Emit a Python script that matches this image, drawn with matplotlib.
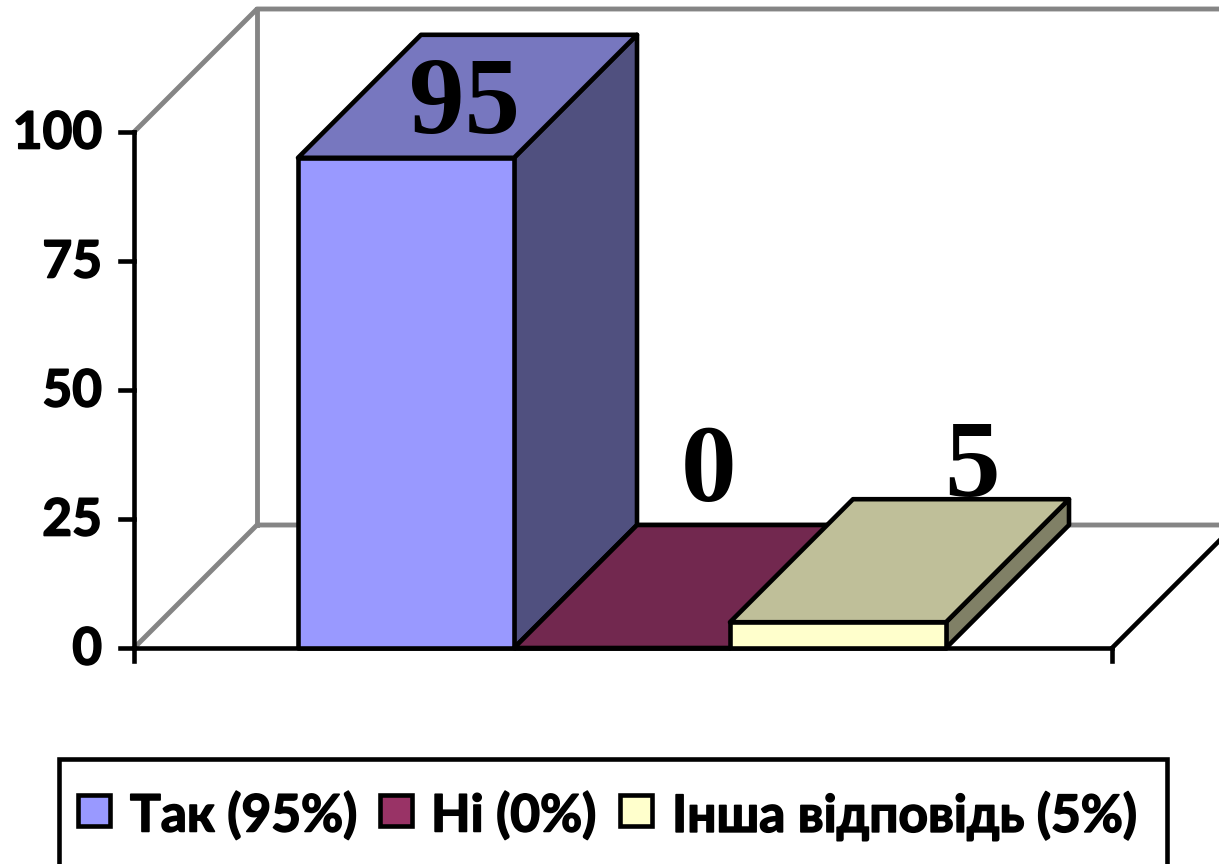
import matplotlib
matplotlib.use("Agg")
import matplotlib.pyplot as plt
import matplotlib.patheffects as pe
from matplotlib.patches import Polygon, Rectangle

# values
series = ["Так (95%)", "Ні (0%)", "Інша відповідь (5%)"]
values = [95, 0, 5]
value_labels = ["95", "0", "5"]
y_ticks = [0, 25, 50, 75, 100]

# chart colours: front, top, side
front_colors = ["#9999FF", "#993366", "#FFFFCC"]
top_colors = ["#7777BF", "#72284F", "#BFBF99"]
side_colors = ["#50507F", "#4D1A33", "#808066"]

# geometry in image pixels
X0, X1, Y0, Y100 = 134, 1112, 648, 132
DEPTH = 123
BAR_X = 298
BAR_W = 216
WALL = "#858585"
LW = 3.3
WALL_LW = 3.5

# fake a heavier weight than Lato Bold gives
heavy = [pe.withStroke(linewidth=1.2, foreground="black")]


def y_of(v):
    return Y0 - v * (Y0 - Y100) / 100


fig = plt.figure(figsize=(12.19, 8.64), dpi=100)
ax = fig.add_axes([0, 0, 1, 1])
ax.set_xlim(0, 1219)
ax.set_ylim(864, 0)
ax.axis("off")

# back walls
wall_top = y_of(100) - DEPTH
wall_bot = Y0 - DEPTH
ax.plot([X0, X0 + DEPTH, 1219], [Y100, wall_top, wall_top], color=WALL, lw=WALL_LW)
ax.plot([X0 + DEPTH, X0 + DEPTH], [wall_top, wall_bot], color=WALL, lw=WALL_LW)
ax.plot([X0, X0 + DEPTH, 1219], [Y0, wall_bot, wall_bot], color=WALL, lw=WALL_LW)
ax.plot([X1, X1 + DEPTH], [Y0, wall_bot], color="black", lw=LW)

# axis lines and ticks
ax.plot([X0, X0], [Y100, Y0], color="black", lw=LW)
ax.plot([X0, X1], [Y0, Y0], color="black", lw=LW)
ax.plot([X1, X1], [Y0, Y0 + 13], color="black", lw=LW)
ax.plot([X0, X0], [Y0, Y0 + 13], color="black", lw=LW)
for t in y_ticks:
    y = y_of(t)
    ax.plot([X0 - 14, X0], [y, y], color="black", lw=LW)
    ax.text(X0 - 32, y + 2, str(t), ha="right", va="center", fontsize=37,
            fontweight="bold", family="Lato", color="black", path_effects=heavy)

# labels for 0 and 5 sit behind the bars, 95 on top
label_x = [465, 709, 972]
label_y = [106, 474, 469]
for i, (lab, v) in enumerate(zip(value_labels, values)):
    left = BAR_X + i * BAR_W
    right = left + BAR_W
    ytop = y_of(v)
    ec = dict(edgecolor="black", linewidth=LW, joinstyle="round")
    if i > 0:
        ax.text(label_x[i], label_y[i], lab, ha="center", va="center", fontsize=80,
                fontweight="bold", family="Liberation Serif", color="black", zorder=1 + i)
    z = 2 + i
    ax.add_patch(Polygon([(right, Y0), (right + DEPTH, Y0 - DEPTH), (right + DEPTH, ytop - DEPTH), (right, ytop)],
                         facecolor=side_colors[i], zorder=z, **ec))
    ax.add_patch(Polygon([(left, ytop), (left + DEPTH, ytop - DEPTH), (right + DEPTH, ytop - DEPTH), (right, ytop)],
                         facecolor=top_colors[i], zorder=z, **ec))
    ax.add_patch(Rectangle((left, ytop), BAR_W, Y0 - ytop, facecolor=front_colors[i], zorder=z, **ec))
ax.text(label_x[0], label_y[0], value_labels[0], ha="center", va="center", fontsize=80,
        fontweight="bold", family="Liberation Serif", color="black", zorder=10)

# legend box
ax.add_patch(Rectangle((59, 759), 1108, 120, facecolor="white", edgecolor="black", linewidth=LW))
swatch_x = [78, 380, 620]
text_x = [130, 431, 672]
for sx, tx, name, col in zip(swatch_x, text_x, series, front_colors):
    ax.add_patch(Rectangle((sx, 795), 32, 31, facecolor=col, edgecolor="black", linewidth=LW))
    ax.text(tx, 816, name, ha="left", va="center", fontsize=37, fontweight="bold",
            family="Lato", color="black", path_effects=heavy)

fig.savefig("out.png", dpi=100, facecolor="white")
